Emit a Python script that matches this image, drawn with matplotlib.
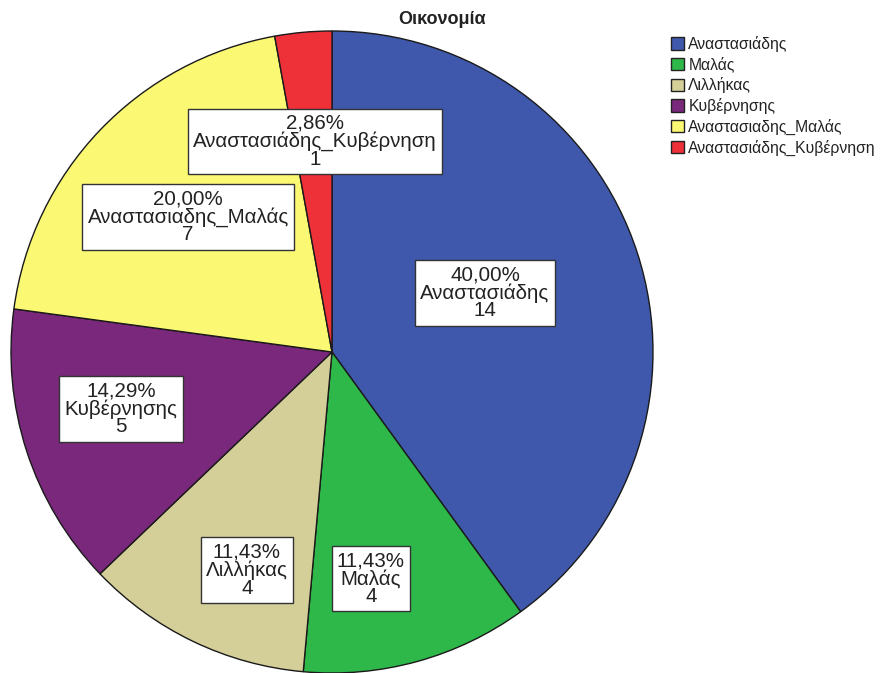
import matplotlib
matplotlib.use("Agg")
import matplotlib.pyplot as plt
from matplotlib.patches import Patch
import numpy as np

plt.rcParams['font.family'] = ['Liberation Sans', 'DejaVu Sans']

title = "Οικονομία"
categories = ["Αναστασιάδης", "Μαλάς", "Λιλλήκας", "Κυβέρνησης",
              "Αναστασιαδης_Μαλάς", "Αναστασιάδης_Κυβέρνηση"]
counts = [14, 4, 4, 5, 7, 1]
colors = ["#3F58AC", "#2EB84A", "#D4CE98", "#7A287C", "#FBF874", "#EE3039"]
# label box layout: radial position (fraction of radius) and angular offset (deg)
label_r = [0.511, 0.717, 0.729, 0.681, 0.615, 0.658]
label_ang_off = [3.1, -5.7, 4.4, -2.9, 0.5, -0.5]

W, H = 882, 673
fig = plt.figure(figsize=(W / 100, H / 100), dpi=100)
cx, cy, R = 332, 352, 321
ax = fig.add_axes([(cx - R) / W, (H - cy - R) / H, 2 * R / W, 2 * R / H])
wedges, _ = ax.pie(counts, colors=colors, startangle=90, counterclock=False,
                   radius=1.0, wedgeprops=dict(edgecolor="#1a1a1a", linewidth=1.0))
ax.set_xlim(-1, 1)
ax.set_ylim(-1, 1)
ax.set_aspect('equal')
ax.axis('off')

total = sum(counts)
for w, c, name, r, off in zip(wedges, counts, categories, label_r, label_ang_off):
    mid = np.deg2rad((w.theta1 + w.theta2) / 2 + off)
    x, y = r * np.cos(mid), r * np.sin(mid)
    pct = f"{100 * c / total:.2f}".replace(".", ",") + "%"
    ax.text(x, y, f"{pct}\n{name}\n{c}", ha="center", va="center", fontsize=14.8,
            linespacing=0.92, color="#222222",
            bbox=dict(boxstyle="square,pad=0.25", facecolor="white",
                      edgecolor="#333333", linewidth=1.0))

fig.text(442 / W, 1 - 20 / H, title, ha="center", va="center",
         fontsize=13, fontweight="bold", color="#222222")

handles = [Patch(facecolor=col, edgecolor="#222222", linewidth=1.0) for col in colors]
leg = fig.legend(handles, categories, loc="upper left",
                 bbox_to_anchor=(671 / W, 1 - 36 / H), frameon=False,
                 fontsize=11.3, handlelength=0.85, handleheight=0.85,
                 handletextpad=0.25, labelspacing=0.3, borderaxespad=0,
                 borderpad=0)
for t in leg.get_texts():
    t.set_color("#222222")

fig.savefig("out.png", dpi=100)
